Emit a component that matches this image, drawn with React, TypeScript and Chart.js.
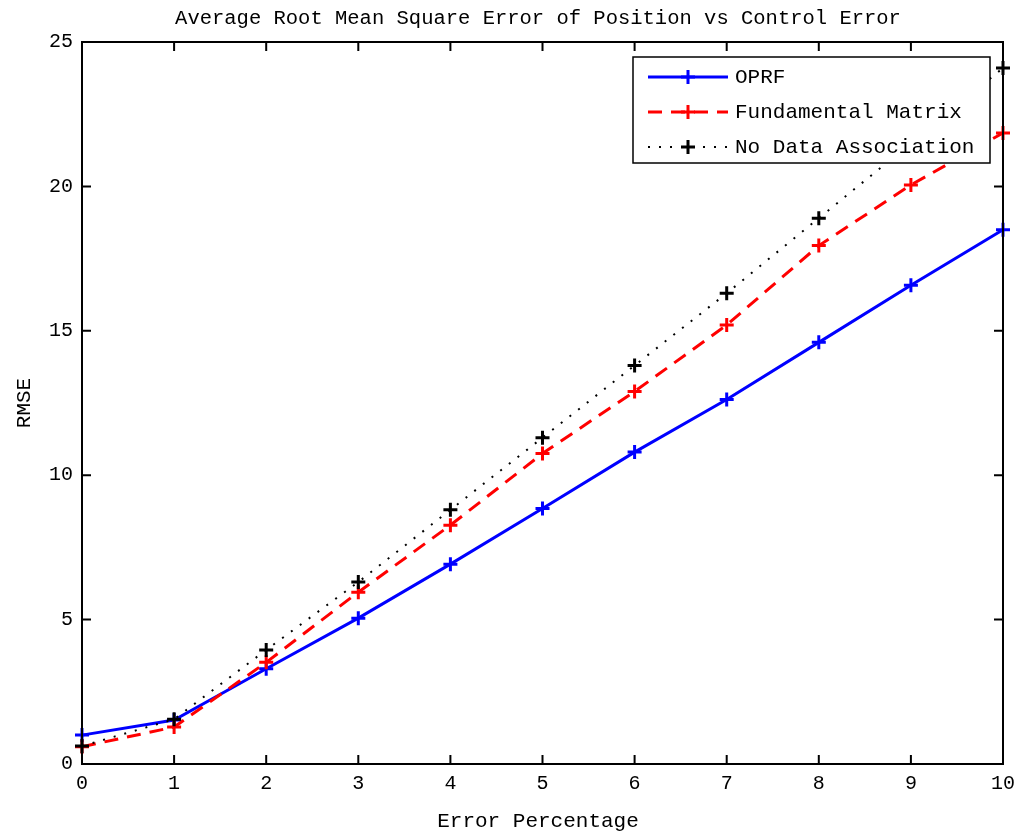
import React, { useEffect, useRef } from "react";
import { Chart, registerables } from "chart.js";

Chart.register(...registerables);

const xValues = [0, 1, 2, 3, 4, 5, 6, 7, 8, 9, 10];
const oprf = [1.0, 1.52, 3.3, 5.05, 6.92, 8.85, 10.8, 12.62, 14.6, 16.58, 18.5];
const fundamental = [0.6, 1.28, 3.52, 5.95, 8.27, 10.75, 12.9, 15.2, 17.95, 20.05, 21.85];
const noData = [0.62, 1.55, 3.95, 6.3, 8.8, 11.3, 13.8, 16.3, 18.9, 21.5, 24.1];
const xTicks = [0, 1, 2, 3, 4, 5, 6, 7, 8, 9, 10];
const yTicks = [0, 5, 10, 15, 20, 25];
const titleText = "Average Root Mean Square Error of Position vs Control Error";
const xTitle = "Error Percentage";
const yTitle = "RMSE";
const seriesNames = ["OPRF", "Fundamental Matrix", "No Data Association"];

const FONT = "'Liberation Mono', 'DejaVu Sans Mono', monospace";

const decorPlugin = {
  id: "decor",
  afterDraw(chart: any) {
    const { ctx, chartArea } = chart;
    const { left, right, top, bottom } = chartArea;
    const xs = chart.scales.x;
    const ys = chart.scales.y;
    ctx.save();
    ctx.strokeStyle = "#000";
    ctx.lineWidth = 2;
    ctx.setLineDash([]);
    ctx.strokeRect(left, top, right - left, bottom - top);
    const tl = 9;
    ctx.beginPath();
    xTicks.forEach((v) => {
      const px = xs.getPixelForValue(v);
      ctx.moveTo(px, bottom);
      ctx.lineTo(px, bottom - tl);
      ctx.moveTo(px, top);
      ctx.lineTo(px, top + tl);
    });
    yTicks.forEach((v) => {
      const py = ys.getPixelForValue(v);
      ctx.moveTo(left, py);
      ctx.lineTo(left + tl, py);
      ctx.moveTo(right, py);
      ctx.lineTo(right - tl, py);
    });
    ctx.stroke();

    // title
    ctx.fillStyle = "#000";
    ctx.font = `20.5px ${FONT}`;
    ctx.textAlign = "center";
    ctx.textBaseline = "middle";
    ctx.fillText(titleText, 538, 19);

    // axis titles
    ctx.font = `21px ${FONT}`;
    ctx.fillText(xTitle, 538, 821);
    ctx.save();
    ctx.translate(24, (top + bottom) / 2);
    ctx.rotate(-Math.PI / 2);
    ctx.fillText(yTitle, 0, 0);
    ctx.restore();

    // legend
    const lx0 = 633, ly0 = 57, lx1 = 990, ly1 = 163;
    ctx.fillStyle = "#fff";
    ctx.fillRect(lx0, ly0, lx1 - lx0, ly1 - ly0);
    ctx.strokeStyle = "#000";
    ctx.lineWidth = 1.5;
    ctx.strokeRect(lx0, ly0, lx1 - lx0, ly1 - ly0);
    const rows = [77, 112, 147];
    chart.data.datasets.forEach((ds: any, i: number) => {
      const y = rows[i];
      ctx.strokeStyle = ds.borderColor;
      ctx.lineWidth = ds.borderWidth;
      ctx.setLineDash(ds.borderDash || []);
      ctx.beginPath();
      ctx.moveTo(648, y);
      ctx.lineTo(728, y);
      ctx.stroke();
      ctx.setLineDash([]);
      ctx.lineWidth = 3;
      ctx.beginPath();
      ctx.moveTo(688 - 7, y);
      ctx.lineTo(688 + 7, y);
      ctx.moveTo(688, y - 7);
      ctx.lineTo(688, y + 7);
      ctx.stroke();
      ctx.fillStyle = "#000";
      ctx.font = `21px ${FONT}`;
      ctx.textAlign = "left";
      ctx.textBaseline = "middle";
      ctx.fillText(seriesNames[i], 735, y);
    });
    ctx.restore();
  },
};

export default function App() {
  const ref = useRef<HTMLCanvasElement>(null);
  useEffect(() => {
    if (!ref.current) return;
    const mk = (vals: number[]) => xValues.map((x, i) => ({ x, y: vals[i] }));
    const chart = new Chart(ref.current, {
      type: "line",
      data: {
        datasets: [
          {
            label: seriesNames[0],
            data: mk(oprf),
            borderColor: "#0000ff",
            backgroundColor: "#0000ff",
            borderWidth: 3,
            pointStyle: "cross",
            pointRadius: 7,
            pointBorderWidth: 3,
            order: 3,
            clip: false,
          },
          {
            label: seriesNames[1],
            data: mk(fundamental),
            borderColor: "#ff0000",
            backgroundColor: "#ff0000",
            borderWidth: 3,
            borderDash: [14, 9],
            pointStyle: "cross",
            pointRadius: 7,
            pointBorderWidth: 3,
            order: 2,
            clip: false,
          },
          {
            label: seriesNames[2],
            data: mk(noData),
            borderColor: "#000000",
            backgroundColor: "#000000",
            borderWidth: 2,
            borderDash: [2, 9],
            pointStyle: "cross",
            pointRadius: 7,
            pointBorderWidth: 3,
            order: 1,
            clip: false,
          },
        ],
      },
      options: {
        animation: false,
        responsive: false,
        maintainAspectRatio: false,
        layout: { padding: { left: 0, right: 14, top: 42, bottom: 0 } },
        plugins: {
          legend: { display: false },
          tooltip: { enabled: false },
          title: { display: false },
        },
        scales: {
          x: {
            type: "linear",
            min: 0,
            max: 10,
            afterFit: (s: any) => {
              s.height = 71;
              s.paddingLeft = 0;
              s.paddingRight = 0;
            },
            afterBuildTicks: (s: any) => {
              s.ticks = xTicks.map((v) => ({ value: v }));
            },
            grid: { display: false, drawTicks: false },
            border: { display: false },
            ticks: {
              color: "#000",
              font: { family: FONT, size: 20 },
              padding: 8,
              maxRotation: 0,
            },
          },
          y: {
            type: "linear",
            min: 0,
            max: 25,
            afterFit: (s: any) => {
              s.width = 82;
              s.paddingTop = 0;
              s.paddingBottom = 0;
            },
            afterBuildTicks: (s: any) => {
              s.ticks = yTicks.map((v) => ({ value: v }));
            },
            grid: { display: false, drawTicks: false },
            border: { display: false },
            ticks: {
              color: "#000",
              font: { family: FONT, size: 20 },
              padding: 9,
            },
          },
        },
      },
      plugins: [decorPlugin],
    });
    return () => chart.destroy();
  }, []);
  return (
    <div style={{ position: "fixed", left: 0, top: 0, width: 1017, height: 835, background: "#fff" }}>
      <canvas ref={ref} width={1017} height={835} style={{ width: 1017, height: 835 }} />
    </div>
  );
}
